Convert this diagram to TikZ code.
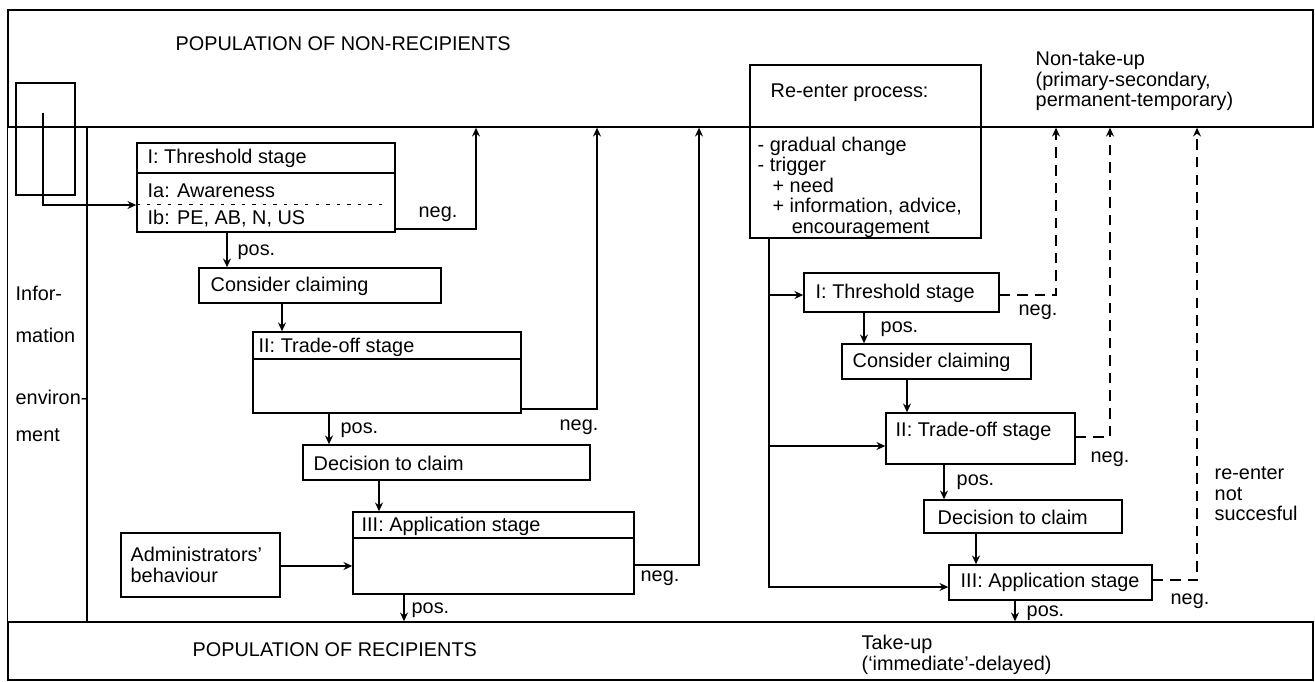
\documentclass[tikz,border=0pt]{standalone}
\usepackage{fontspec}
\setmainfont{Liberation Sans}
\usetikzlibrary{arrows.meta,fit}

\begin{document}
\begin{tikzpicture}
[x=0.02cm, y=-0.02cm, line width=0.8pt,
every node/.style={font=\fontsize{11.3}{11.7}\selectfont, inner sep=0pt},
box/.style={draw, fit={#1}},
txt/.style={anchor=west, align=left},
arr/.style={-{Stealth[length=5pt,width=4.5pt]}},
dsh/.style={dash pattern=on 6pt off 4pt},
]
\useasboundingbox (0,0) rectangle (1315,682);
% bands
\node[box={(8,10) (1313,127)}] (nonrec) {};
\node[box={(8,622) (1313,680)}] (rec) {};
\draw (nonrec.south west) -- (rec.north west);
\draw (87,127) -- (87,622);
\node[txt] (popnon) at (175,44) {POPULATION OF NON-RECIPIENTS};
\node[txt] (poprec) at (192,650) {POPULATION OF RECIPIENTS};
\node[txt] (ntu) at (1035,81) {Non-take-up\\(primary-secondary,\\permanent-temporary)};
\node[txt] (tu) at (861,655) {Take-up\\(`immediate'-delayed)};
\node[txt] (reen) at (1214,494) {re-enter\\not\\succesful};
% information environment
\node[box={(16,83) (75,195)}] (infobox) {};
\coordinate (infosrc) at (43,113);
\node[txt] (info1) at (15,293) {Infor-};
\node[txt] (info2) at (15,335) {mation};
\node[txt] (info3) at (15,397) {environ-};
\node[txt] (info4) at (15,435) {ment};
% first claim
\node[box={(137,143) (395,232)}] (thrL) {};
\node[txt] (thrLa) at (147,158) {I: Threshold stage};
\node[txt] (thrLb) at (147,191) {Ia: Awareness};
\node[txt] (thrLc) at (147,219) {Ib: PE, AB, N, US};
\draw (thrL.west |- 0,173) -- (thrL.east |- 0,173);
\draw[line width=0.5pt, dash pattern=on 2pt off 4pt] (thrL.west |- 0,204) -- (385,204);
\node[box={(199,268) (441,303)}] (consL) {};
\node[txt] (consLt) at (210,286) {Consider claiming};
\node[box={(253,332) (521,413)}] (trdL) {};
\node[txt] (trdLt) at (258,347) {II: Trade-off stage};
\draw (trdL.west |- 0,359) -- (trdL.east |- 0,359);
\node[box={(303,445) (590,480)}] (decL) {};
\node[txt] (decLt) at (313,463) {Decision to claim};
\node[box={(353,512) (634,594)}] (appL) {};
\node[txt] (appLt) at (361,526) {III: Application stage};
\draw (appL.west |- 0,538) -- (appL.east |- 0,538);
\node[box={(121,533) (280,597)}] (admin) {};
\node[txt] (admint) at (130,565) {Administrators'\\behaviour};
\draw[arr] (infosrc) |- (thrL.west |- 0,205);
\draw[arr] (thrL.south -| 227,0) -- (consL.north -| 227,0);
\draw[arr] (consL.south -| 282,0) -- (trdL.north -| 282,0);
\draw[arr] (trdL.south -| 329,0) -- (decL.north -| 329,0);
\draw[arr] (decL.south -| 379,0) -- (appL.north -| 379,0);
\draw[arr] (appL.south -| 404,0) -- (rec.north -| 404,0);
\draw[arr] (admin.east |- 0,566) -- (appL.west |- 0,566);
\draw[arr] (thrL.east |- 0,229) -| (nonrec.south -| 476,0);
\draw[arr] (trdL.east |- 0,409) -| (nonrec.south -| 597,0);
\draw[arr] (appL.east |- 0,565) -| (nonrec.south -| 699,0);
\node (posL1) [txt] at (237,252) {pos.};
\node (posL2) [txt] at (340,430) {pos.};
\node (posL3) [txt] at (411,610) {pos.};
\node (negL1) at (438,214) {neg.};
\node (negL2) at (579,427) {neg.};
\node (negL3) at (660,578) {neg.};
% re-enter
\node[box={(750,65) (981,238)}] (reent) {};
\node[txt] (reentt) at (770,93) {Re-enter process:};
\node[txt] (reentl) at (757,187) {- gradual change\\- trigger\\\hspace*{8.5pt}+ need\\\hspace*{8.5pt}+ information, advice,\\\hspace*{19.4pt}encouragement};
\coordinate (trunk) at (769,0);
\node[box={(804,273) (999,312)}] (thrR) {};
\node[txt] (thrRt) at (815,293) {I: Threshold stage};
\node[box={(842,344) (1031,379)}] (consR) {};
\node[txt] (consRt) at (852,362) {Consider claiming};
\node[box={(886,413) (1075,464)}] (trdR) {};
\node[txt] (trdRt) at (895,431) {II: Trade-off stage};
\node[box={(924,500) (1122,533)}] (decR) {};
\node[txt] (decRt) at (937,517) {Decision to claim};
\node[box={(949,565) (1152,600)}] (appR) {};
\node[txt] (appRt) at (960,582) {III: Application stage};
\draw[arr] (reent.south -| trunk) |- (appR.west |- 0,587);
\draw[arr] (trunk |- 0,295) -- (thrR.west |- 0,295);
\draw[arr] (trunk |- 0,446) -- (trdR.west |- 0,446);
\draw[arr] (thrR.south -| 864,0) -- (consR.north -| 864,0);
\draw[arr] (consR.south -| 907,0) -- (trdR.north -| 907,0);
\draw[arr] (trdR.south -| 944,0) -- (decR.north -| 944,0);
\draw[arr] (decR.south -| 976,0) -- (appR.north -| 976,0);
\draw[arr] (appR.south -| 1015,0) -- (rec.north -| 1015,0);
\draw[arr, dsh] (thrR.east |- 0,295) -| (nonrec.south -| 1056,0);
\draw[arr, dsh] (trdR.east |- 0,437) -| (nonrec.south -| 1110,0);
\draw[arr, dsh] (appR.east |- 0,580) -| (nonrec.south -| 1197,0);
\node (posR1) [txt] at (880,329) {pos.};
\node (posR2) [txt] at (956,482) {pos.};
\node (posR3) [txt] at (1026,613) {pos.};
\node (negR1) at (1038,312) {neg.};
\node (negR2) at (1110,459) {neg.};
\node (negR3) at (1190,601) {neg.};
\end{tikzpicture}
\end{document}
